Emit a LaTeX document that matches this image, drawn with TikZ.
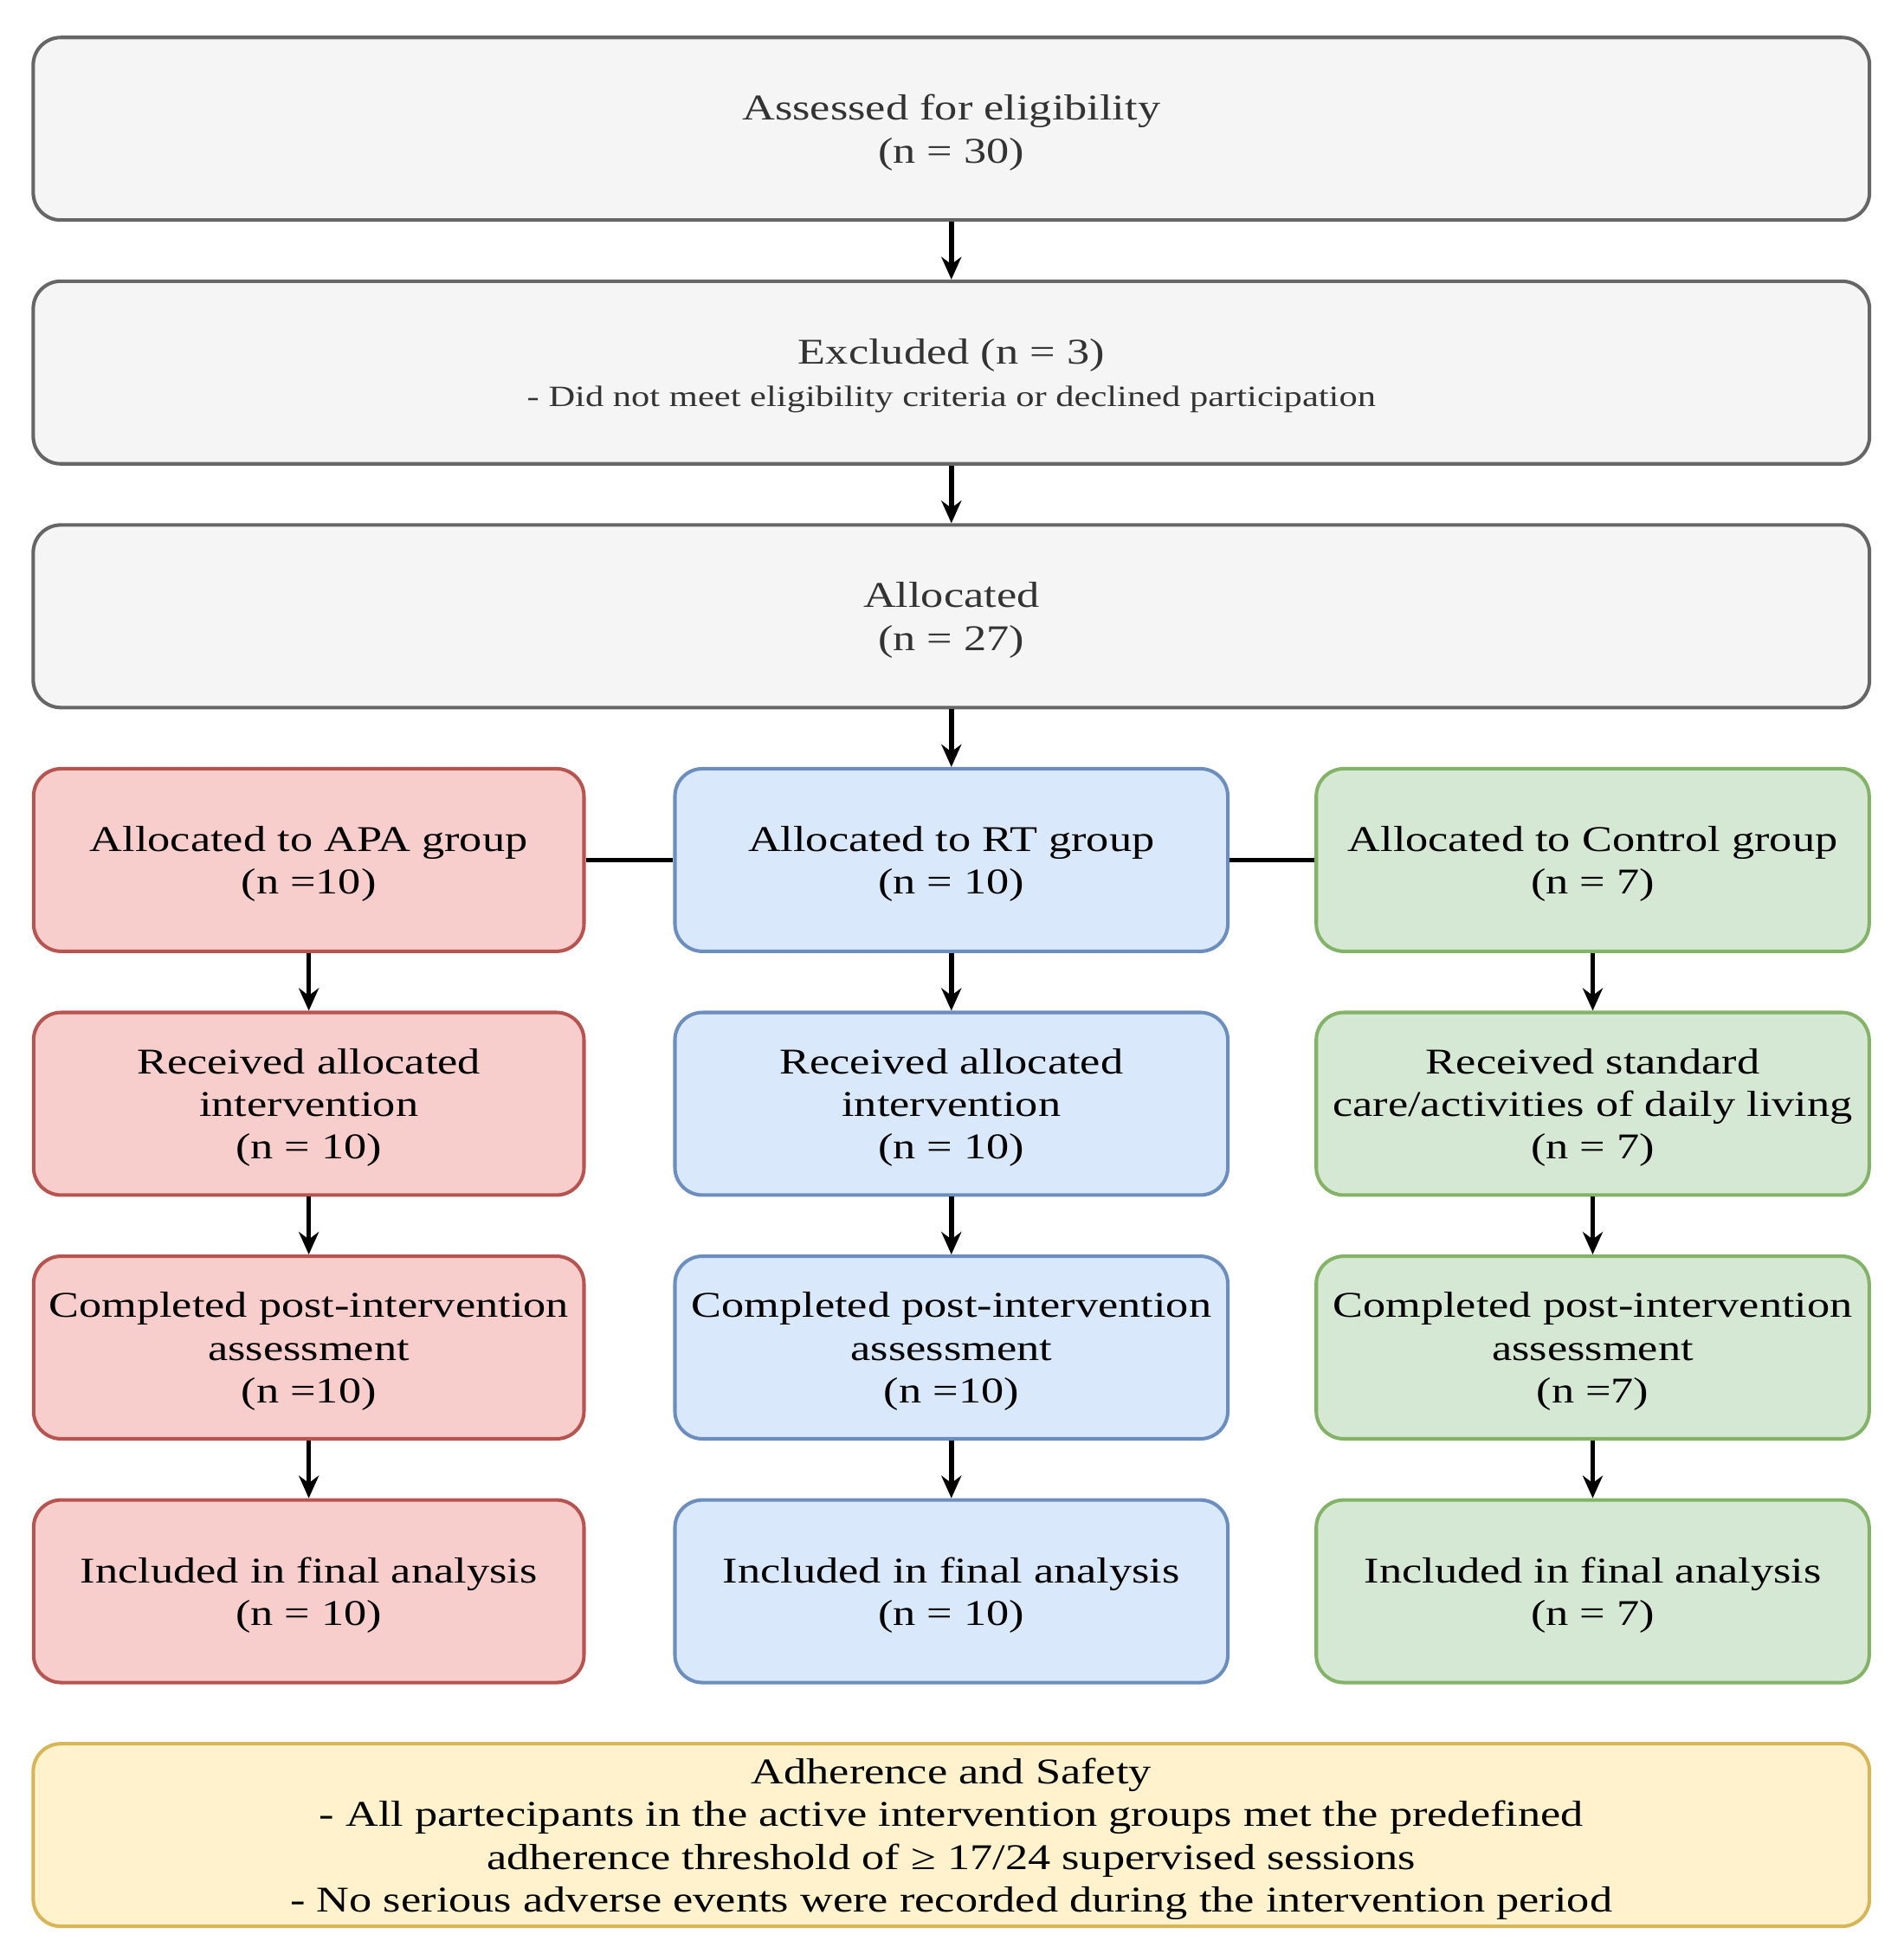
\documentclass[tikz,border=0pt]{standalone}
\usepackage{fontspec}
\setmainfont{Liberation Serif}[FakeStretch=1.25]
\usepackage{xcolor}
\usetikzlibrary{arrows.meta,positioning}
\definecolor{greyfill}{HTML}{F5F5F5}
\definecolor{greyline}{HTML}{666666}
\definecolor{greytext}{HTML}{333333}
\definecolor{redfill}{HTML}{F8CECC}
\definecolor{redline}{HTML}{B85450}
\definecolor{bluefill}{HTML}{DAE8FC}
\definecolor{blueline}{HTML}{6C8EBF}
\definecolor{greenfill}{HTML}{D5E8D4}
\definecolor{greenline}{HTML}{82B366}
\definecolor{yellowfill}{HTML}{FFF2CC}
\definecolor{yellowline}{HTML}{D6B656}
\newcommand{\smalltext}{\fontsize{6.7}{8}\selectfont}

\begin{document}
\begin{tikzpicture}[
  x=0.01cm,y=-0.01cm,
  >={Stealth[length=1.8mm,width=1.6mm]},
  font=\fontsize{8.25}{9.7}\selectfont,
  box/.style={draw,rounded corners=2.2mm,line width=0.8pt,align=center,
    inner sep=0pt,minimum height=1.46cm,text depth=-1.6pt,
    execute at begin node={\rule{0pt}{8pt}}},
  wide/.style={box,minimum width=14.68cm,fill=greyfill,draw=greyline,text=greytext},
  apa/.style={box,minimum width=4.40cm,fill=redfill,draw=redline},
  rt/.style={box,minimum width=4.42cm,fill=bluefill,draw=blueline},
  ctl/.style={box,minimum width=4.42cm,fill=greenfill,draw=greenline},
  note/.style={box,minimum width=14.68cm,fill=yellowfill,draw=yellowline},
  flow/.style={->,line width=1.1pt},
  link/.style={line width=1.1pt}
]
  \useasboundingbox (0,0) rectangle (1512,1568);

  % enrolment
  \node[wide] (assessed) at (761,103) {Assessed for eligibility\\(n = 30)};
  \node[wide] (excluded) at (761,298)
    {Excluded (n = 3)\\{\smalltext - Did not meet eligibility criteria or declined participation}};
  \node[wide] (allocated) at (761,493) {Allocated\\(n = 27)};

  % three arms
  \node[apa] (apa1) at (247,688) {Allocated to APA group\\(n =10)};
  \node[rt]  (rt1)  at (761,688) {Allocated to RT group\\(n = 10)};
  \node[ctl] (ctl1) at (1274,688) {Allocated to Control group\\(n = 7)};

  \node[apa] (apa2) at (247,883) {Received allocated\\intervention\\(n = 10)};
  \node[rt]  (rt2)  at (761,883) {Received allocated\\intervention\\(n = 10)};
  \node[ctl] (ctl2) at (1274,883) {Received standard\\care/activities of daily living\\(n = 7)};

  \node[apa] (apa3) at (247,1078) {Completed post-intervention\\assessment\\(n =10)};
  \node[rt]  (rt3)  at (761,1078) {Completed post-intervention\\assessment\\(n =10)};
  \node[ctl] (ctl3) at (1274,1078) {Completed post-intervention\\assessment\\(n =7)};

  \node[apa] (apa4) at (247,1273) {Included in final analysis\\(n = 10)};
  \node[rt]  (rt4)  at (761,1273) {Included in final analysis\\(n = 10)};
  \node[ctl] (ctl4) at (1274,1273) {Included in final analysis\\(n = 7)};

  % adherence note
  \node[note] (safety) at (761,1468) {Adherence and Safety\\
    - All partecipants in the active intervention groups met the predefined\\
    adherence threshold of ≥ 17/24 supervised sessions\\
    - No serious adverse events were recorded during the intervention period};

  % connectors
  \draw[flow] (assessed) -- (excluded);
  \draw[flow] (excluded) -- (allocated);
  \draw[flow] (allocated) -- (rt1);
  \draw[link] (apa1) -- (rt1);
  \draw[link] (rt1) -- (ctl1);
  \draw[flow] (apa1) -- (apa2);
  \draw[flow] (apa2) -- (apa3);
  \draw[flow] (apa3) -- (apa4);
  \draw[flow] (rt1) -- (rt2);
  \draw[flow] (rt2) -- (rt3);
  \draw[flow] (rt3) -- (rt4);
  \draw[flow] (ctl1) -- (ctl2);
  \draw[flow] (ctl2) -- (ctl3);
  \draw[flow] (ctl3) -- (ctl4);
\end{tikzpicture}
\end{document}
